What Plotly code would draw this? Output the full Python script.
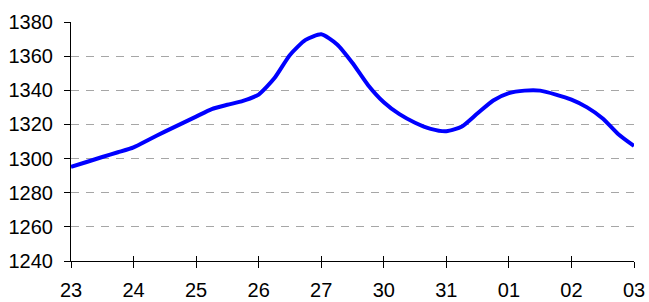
import plotly.graph_objects as go

# x positions in category units (0 = "23", 9 = "03"), quarter-day steps
x_pos = [i * 0.25 for i in range(37)]
values = [1295.1, 1298.0, 1300.9, 1303.7, 1306.6, 1311.2, 1315.8, 1320.2, 1324.6,
          1329.0, 1331.5, 1333.8, 1337.5, 1347.0, 1360.7, 1369.5, 1372.8,
          1367.0, 1356.0, 1343.0, 1333.0, 1326.0, 1321.0, 1317.4, 1316.0,
          1318.8, 1326.5, 1334.0, 1338.3, 1339.8, 1339.8, 1337.5, 1334.5,
          1330.0, 1323.5, 1314.3, 1307.4]
tick_labels = ["23", "24", "25", "26", "27", "30", "31", "01", "02", "03"]
y_ticks = [1240, 1260, 1280, 1300, 1320, 1340, 1360, 1380]

fig = go.Figure()
fig.add_trace(go.Scatter(x=x_pos, y=values, mode="lines",
                         line=dict(color="#0000ff", width=4, shape="spline", smoothing=0.6),
                         hoverinfo="skip"))

font = dict(family="Liberation Sans, Arial, sans-serif", size=20, color="#000000")
fig.update_layout(
    width=649, height=302,
    margin=dict(l=71, r=15, t=22, b=41),
    paper_bgcolor="white", plot_bgcolor="white",
    showlegend=False,
    font=font,
    xaxis=dict(range=[0, 9], tickmode="array", tickvals=list(range(10)),
               ticktext=tick_labels, showgrid=False, zeroline=False,
               showline=True, linecolor="#000000", linewidth=1,
               ticks="outside", ticklen=6, tickcolor="#000000", tickfont=font,
               automargin=False, ticklabelstandoff=5),
    xaxis2=dict(range=[0, 9], overlaying="x", anchor="y", side="bottom",
                tickmode="array", tickvals=list(range(10)), showticklabels=False,
                showgrid=False, zeroline=False, showline=False,
                ticks="inside", ticklen=5, tickcolor="#000000", automargin=False),
    yaxis=dict(range=[1240, 1380], tickmode="array", tickvals=y_ticks,
               showgrid=True, gridcolor="#a6a6a6", gridwidth=1, griddash="8px,7px",
               zeroline=False, showline=True, linecolor="#000000", linewidth=1,
               ticks="outside", ticklen=6, tickcolor="#000000", tickfont=font,
               automargin=False, ticklabelstandoff=7),
)
fig.add_trace(go.Scatter(x=[0, 9], y=[None, None], xaxis="x2", mode="lines",
                         showlegend=False, hoverinfo="skip"))
# remove the browser's default 8px body margin and scrollbars
post = ("document.body.style.margin='0';"
        "document.body.style.overflow='hidden';"
        "document.documentElement.style.overflow='hidden';")
fig.write_html("out.html", post_script=post,
               config={"displayModeBar": False, "staticPlot": True})
